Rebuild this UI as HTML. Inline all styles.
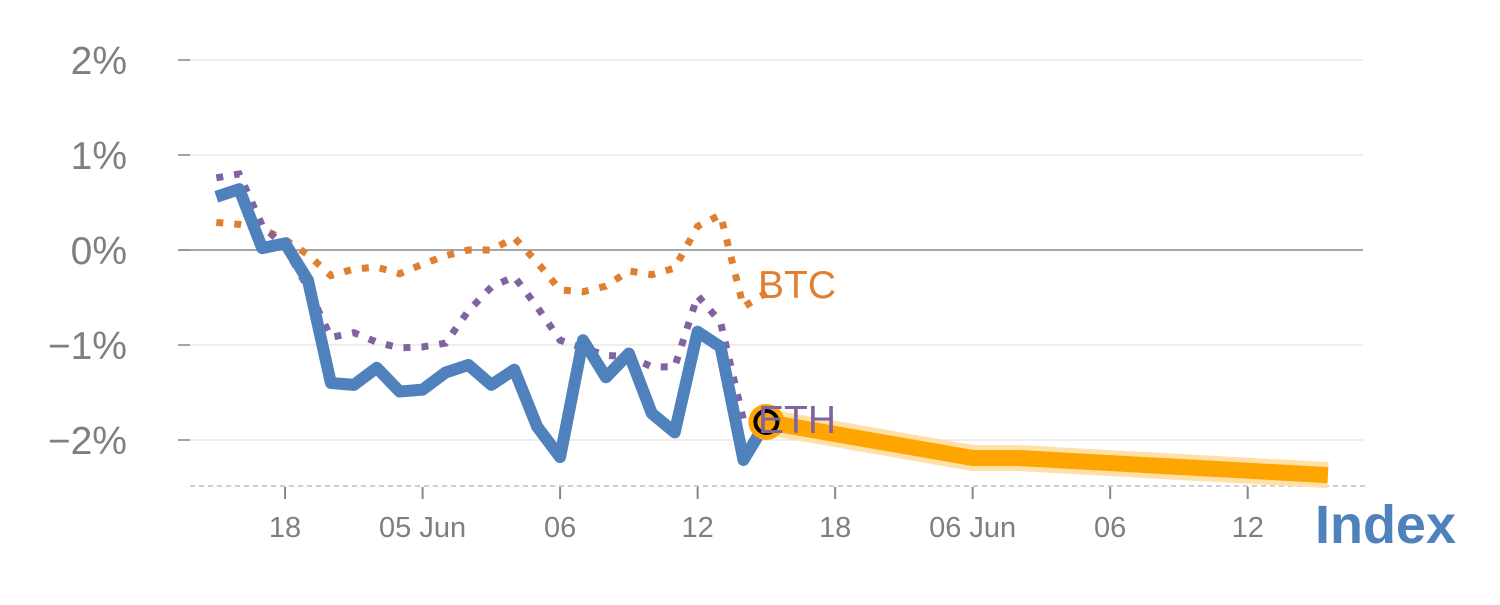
<!DOCTYPE html>
<html><head><meta charset="utf-8"><style>
html,body{margin:0;padding:0;background:#fff;}
svg text{font-family:"Liberation Sans",sans-serif;}
</style></head><body>
<svg id="chart" width="1500" height="600" xmlns="http://www.w3.org/2000/svg">
<g id="grid"></g>
<g id="axes"></g>
<g id="series"></g>
<text x="1456" y="543" text-anchor="end" font-size="54" font-weight="bold" fill="#4F81BD">Index</text>
</svg>
<script>
const yTicks = [2, 1, 0, -1, -2];
const yTickLabels = ["2%", "1%", "0%", "\u22121%", "\u22122%"];
const xTickDays = [3, 9, 15, 21, 27, 33, 39, 45];
const xTickLabels = ["18", "05 Jun", "06", "12", "18", "06 Jun", "06", "12"];
const indexValues = [0.56,0.64,0.02,0.07,-0.32,-1.40,-1.42,-1.24,-1.49,-1.47,-1.29,-1.21,-1.42,-1.26,-1.86,-2.18,-0.95,-1.34,-1.09,-1.72,-1.92,-0.86,-1.02,-2.21,-1.81];
const btcValues = [0.29,0.27,0.22,0.11,-0.05,-0.27,-0.20,-0.18,-0.25,-0.15,-0.06,0.00,0.00,0.13,-0.13,-0.42,-0.44,-0.38,-0.22,-0.26,-0.19,0.25,0.37,-0.60,-0.45];
const ethValues = [0.76,0.80,0.26,0.03,-0.40,-0.92,-0.87,-0.97,-1.03,-1.02,-0.98,-0.64,-0.39,-0.28,-0.60,-0.95,-1.03,-1.11,-1.12,-1.23,-1.23,-0.48,-0.76,-1.79,-1.79];
const forecastDays = [24, 33, 35, 48.5];
const forecastValues = [-1.81, -2.19, -2.19, -2.37];

const NS = "http://www.w3.org/2000/svg";
const xs = d => 216.3 + 22.92 * d;
const ys = v => 250 - 95 * v;
function mk(tag, attrs, parent){ const e=document.createElementNS(NS,tag); for(const k in attrs) e.setAttribute(k,attrs[k]); parent.appendChild(e); return e; }
const grid=document.getElementById('grid'), axes=document.getElementById('axes'), series=document.getElementById('series');

yTicks.forEach((t,i)=>{
  const y=ys(t);
  const gl=mk('line',{x1:178,x2:1363,y1:y,y2:y,stroke:t===0?'#8a8a8a':'#e3e3e3','stroke-width':t===0?1.5:1.2},grid);
  
  
  const tk=mk('line',{x1:178,x2:190,y1:y,y2:y,stroke:'#888','stroke-width':1.5},axes);
  
  
  const tx=mk('text',{x:127,y:y+14,'text-anchor':'end','font-size':39,fill:'#7f7f7f'},axes);
  tx.textContent=yTickLabels[i];
  
  
});
const base=mk('line',{x1:190,x2:1365,y1:486,y2:486,stroke:'#cfcfcf','stroke-width':2,'stroke-dasharray':'5,4'},axes);


xTickDays.forEach((d,i)=>{
  const x=xs(d);
  const tk=mk('line',{x1:x,x2:x,y1:487,y2:499,stroke:'#888','stroke-width':2},axes);
  
  
  const tx=mk('text',{x:x,y:537,'text-anchor':'middle','font-size':29,fill:'#7f7f7f'},axes);
  tx.textContent=xTickLabels[i];
  
  
});
function pts(vals, days){ return vals.map((v,i)=>xs(days?days[i]:i)+','+ys(v)).join(' '); }

const btc=mk('polyline',{points:pts(btcValues),fill:'none',stroke:'#E07F2F','stroke-width':7,'stroke-dasharray':'7,11'},series);


const eth=mk('polyline',{points:pts(ethValues),fill:'none',stroke:'#8064A2','stroke-width':7,'stroke-dasharray':'7,11'},series);


const idx=mk('polyline',{points:pts(indexValues),fill:'none',stroke:'#4F81BD','stroke-width':12,'stroke-linejoin':'round'},series);


const halo=mk('polyline',{points:pts(forecastValues,forecastDays),fill:'none',stroke:'#FFE0A8','stroke-width':26},series);


const fc=mk('polyline',{points:pts(forecastValues,forecastDays),fill:'none',stroke:'#FFA500','stroke-width':16},series);


const last=indexValues.length-1;
const m1=mk('circle',{cx:xs(last),cy:ys(indexValues[last]),r:18,fill:'#FFA500'},series);


const m2=mk('circle',{cx:xs(last),cy:ys(indexValues[last]),r:11,fill:'#FFA500',stroke:'#000','stroke-width':4},series);


const bl=mk('text',{x:758,y:298,'font-size':39,fill:'#E07F2F'},series);
bl.textContent='BTC';


const el=mk('text',{x:758,y:433,'font-size':39,fill:'#8064A2'},series);
el.textContent='ETH';


</script>
</body></html>
